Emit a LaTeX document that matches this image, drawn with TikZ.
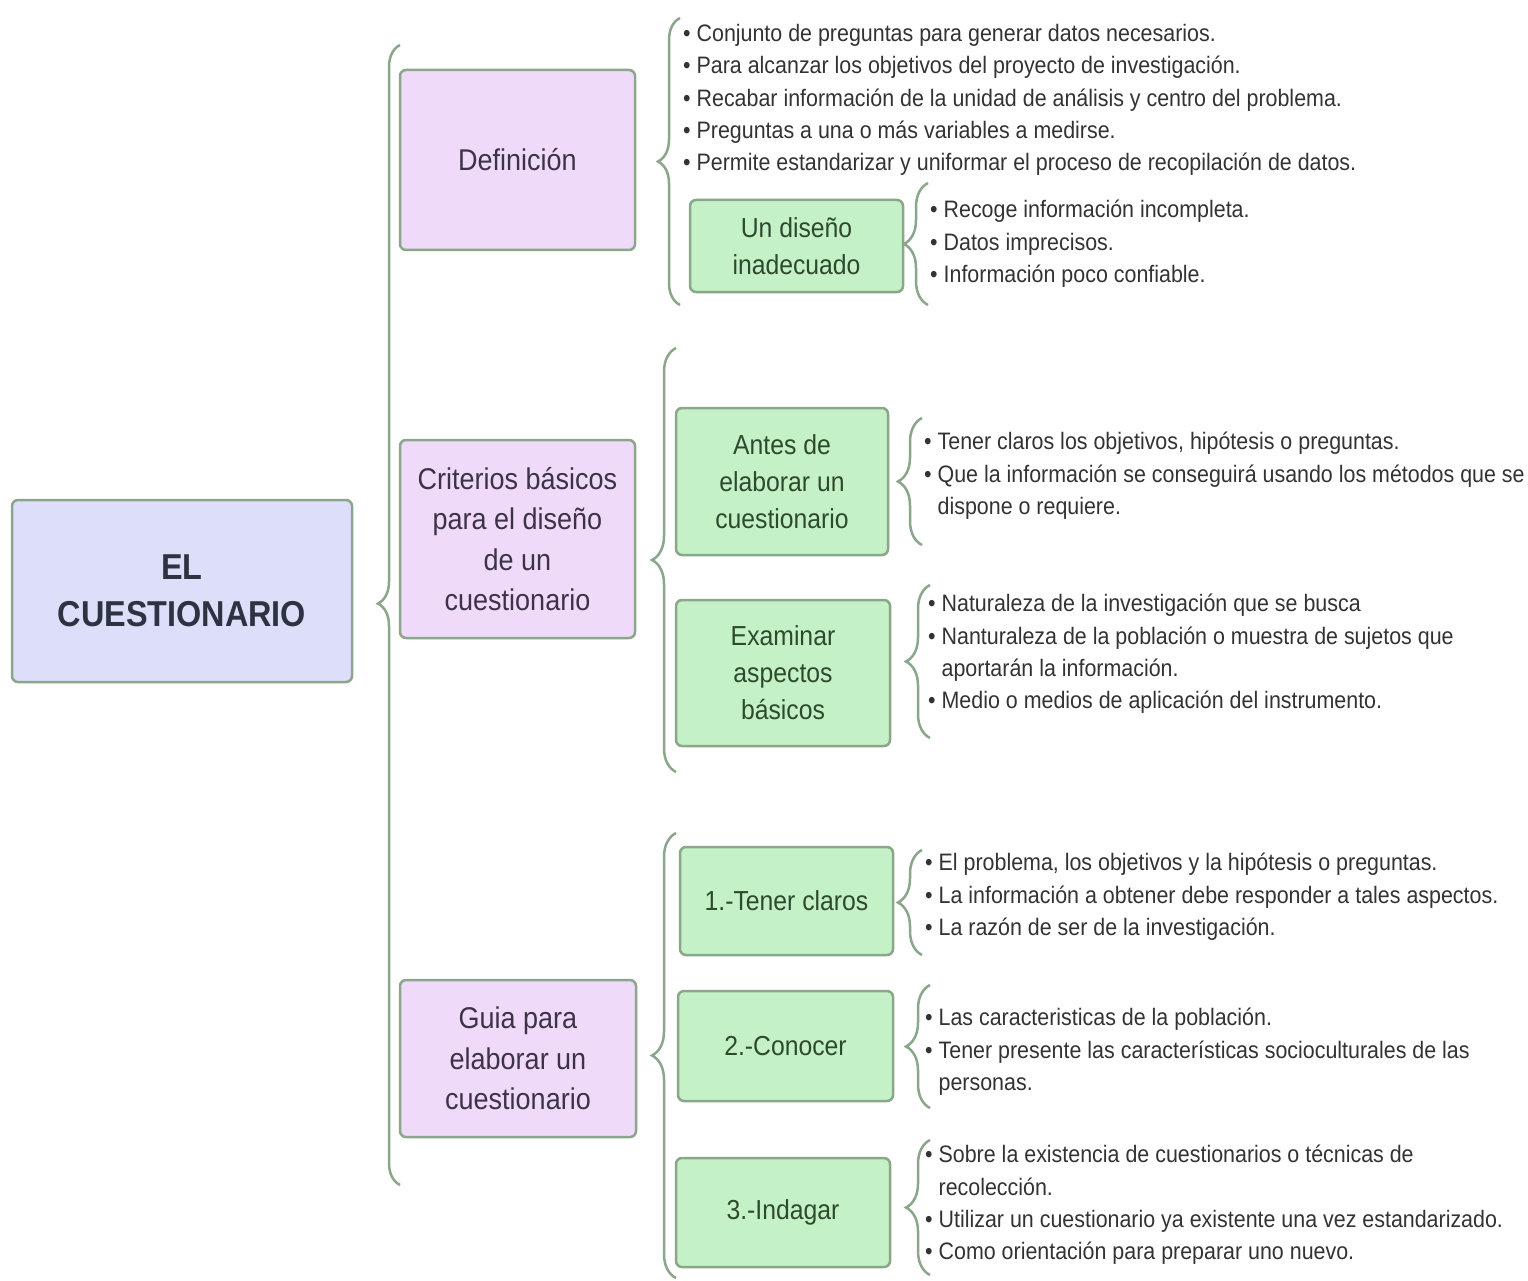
\documentclass[tikz,border=0pt]{standalone}
\usepackage{fontspec}
\setmainfont{Liberation Sans}[FakeStretch=0.9]
\usetikzlibrary{positioning, decorations.pathreplacing}

\definecolor{edgegreen}{HTML}{8BA68B}
\definecolor{mainfill}{HTML}{DDDEFA}
\definecolor{pinkfill}{HTML}{F0DAFA}
\definecolor{greenfill}{HTML}{C4F2C6}
\definecolor{maintext}{HTML}{2D3340}
\definecolor{pinktext}{HTML}{3D3347}
\definecolor{greentext}{HTML}{2E4A2E}
\definecolor{bullettext}{HTML}{333333}

\tikzset{
  box/.style={draw=edgegreen, line width=2.5pt, rounded corners=6pt, align=center, inner sep=0pt},
  mainbox/.style={box, fill=mainfill, text=maintext, font=\fontsize{36}{47}\selectfont\bfseries},
  topicbox/.style={box, fill=pinkfill, text=pinktext, font=\fontsize{30}{40.5}\selectfont},
  subbox/.style={box, fill=greenfill, text=greentext, font=\fontsize{27.5}{37}\selectfont},
  bullets/.style={anchor=north west, align=left, inner sep=0pt, text=bullettext, font=\fontsize{23.8}{32.3}\selectfont},
  curly/.style={draw=edgegreen, line width=2.5pt, decorate, decoration={brace, amplitude=#1}},
  curly/.default=22pt
}
\newcommand{\bul}{\textbullet\ }
\newcommand{\ind}{\hphantom{\textbullet\ }}

\begin{document}
\begin{tikzpicture}[x=1pt, y=-1pt]
  \useasboundingbox[fill=white] (0,0) rectangle (1528,1281);

  \node[mainbox, minimum width=340, minimum height=182] (main) at (182, 591) {EL\\CUESTIONARIO};

  \node[topicbox, minimum width=235, minimum height=180] (def) at (517.5, 160) {Definición};
  \node[topicbox, minimum width=235, minimum height=198] (crit) at (517.5, 539) {Criterios básicos\\para el diseño\\de un\\cuestionario};
  \node[topicbox, minimum width=236, minimum height=157] (guia) at (518, 1058.5) {Guia para\\elaborar un\\cuestionario};

  \node[subbox, minimum width=213, minimum height=92] (disenio) at (796.5, 246) {Un diseño\\inadecuado};
  \node[subbox, minimum width=212, minimum height=147] (antes) at (782, 481.5) {Antes de\\elaborar un\\cuestionario};
  \node[subbox, minimum width=214, minimum height=146] (examinar) at (783, 673) {Examinar\\aspectos\\básicos};
  \node[subbox, minimum width=213, minimum height=108] (tener) at (786.5, 901) {1.-Tener claros};
  \node[subbox, minimum width=215, minimum height=110] (conocer) at (785.5, 1046) {2.-Conocer};
  \node[subbox, minimum width=214, minimum height=109] (indagar) at (783, 1212.5) {3.-Indagar};

  \node[bullets] (def_list) at (683, 24) {\bul Conjunto de preguntas para generar datos necesarios.\\
    \bul Para alcanzar los objetivos del proyecto de investigación.\\
    \bul Recabar información de la unidad de análisis y centro del problema.\\
    \bul Preguntas a una o más variables a medirse.\\
    \bul Permite estandarizar y uniformar el proceso de recopilación de datos.};
  \node[bullets] (disenio_list) at (930, 200) {\bul Recoge información incompleta.\\
    \bul Datos imprecisos.\\
    \bul Información poco confiable.};
  \node[bullets] (antes_list) at (924, 432) {\bul Tener claros los objetivos, hipótesis o preguntas.\\
    \bul Que la información se conseguirá usando los métodos que se\\
    \ind dispone o requiere.};
  \node[bullets] (examinar_list) at (928, 594) {\bul Naturaleza de la investigación que se busca\\
    \bul Nanturaleza de la población o muestra de sujetos que\\
    \ind aportarán la información.\\
    \bul Medio o medios de aplicación del instrumento.};
  \node[bullets] (tener_list) at (925, 853) {\bul El problema, los objetivos y la hipótesis o preguntas.\\
    \bul La información a obtener debe responder a tales aspectos.\\
    \bul La razón de ser de la investigación.};
  \node[bullets] (conocer_list) at (925, 1008) {\bul Las caracteristicas de la población.\\
    \bul Tener presente las características socioculturales de las\\
    \ind personas.};
  \node[bullets] (indagar_list) at (925, 1145) {\bul Sobre la existencia de cuestionarios o técnicas de\\
    \ind recolección.\\
    \bul Utilizar un cuestionario ya existente una vez estandarizado.\\
    \bul Como orientación para preparar uno nuevo.};

  \draw[curly, decoration={aspect=0.51}] (400, 1185) -- (400, 45);
  \draw[curly, decoration={aspect=0.5}] (680, 305) -- (680, 18);
  \draw[curly=24pt] (928, 305) -- (928, 183);
  \draw[curly=24pt] (676, 772) -- (676, 348);
  \draw[curly=24pt] (922, 545) -- (922, 418);
  \draw[curly=24pt] (930, 738) -- (930, 585);
  \draw[curly=24pt] (676, 1278) -- (676, 833);
  \draw[curly=24pt] (922, 955) -- (922, 850);
  \draw[curly=24pt] (930, 1108) -- (930, 985);
  \draw[curly=24pt] (930, 1275) -- (930, 1140);
\end{tikzpicture}
\end{document}
